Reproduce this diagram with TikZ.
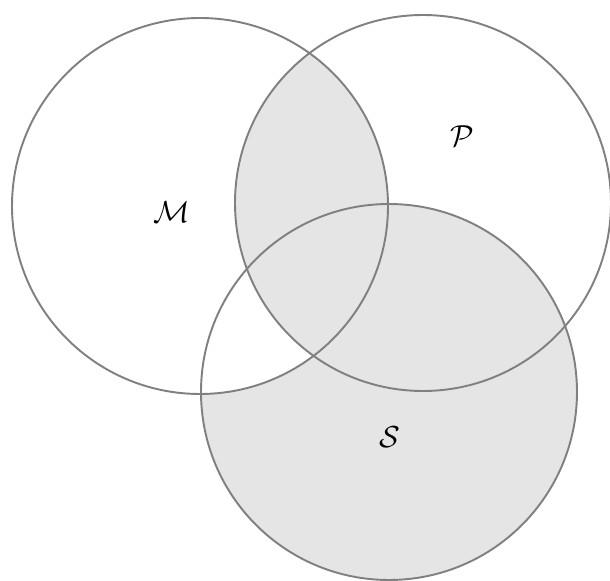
\documentclass[tikz,border=0pt]{standalone}
\usepackage{tikz}
\definecolor{garisabu}{RGB}{128,128,128}
\definecolor{isiabu}{RGB}{229,229,229}

\begin{document}
\begin{tikzpicture}[
        x=0.02cm, y=-0.02cm,
        himpunan/.style={draw=garisabu, line width=1.1pt},
        lbl/.style={font=\LARGE}
    ]
        \useasboundingbox (0,0) rectangle (610,581);
        \coordinate (cM) at (200,206);
        \coordinate (cP) at (423,203);
        \coordinate (cS) at (389,392);
        % daerah yang diarsir
        \fill[isiabu] (cS) circle[radius=188];
        \begin{scope}
            \clip (cM) circle[radius=188];
            \fill[white]  (cS) circle[radius=188];
            \fill[isiabu] (cP) circle[radius=188];
        \end{scope}
        \draw[himpunan] (cM) circle[radius=188];
        \draw[himpunan] (cP) circle[radius=188];
        \draw[himpunan] (cS) circle[radius=188];
        \node[lbl] (labM) at (172,212) {$\mathcal{M}$};
        \node[lbl] (labP) at (462,136) {$\mathcal{P}$};
        \node[lbl] (labS) at (390,437) {$\mathcal{S}$};
    \end{tikzpicture}
\end{document}
